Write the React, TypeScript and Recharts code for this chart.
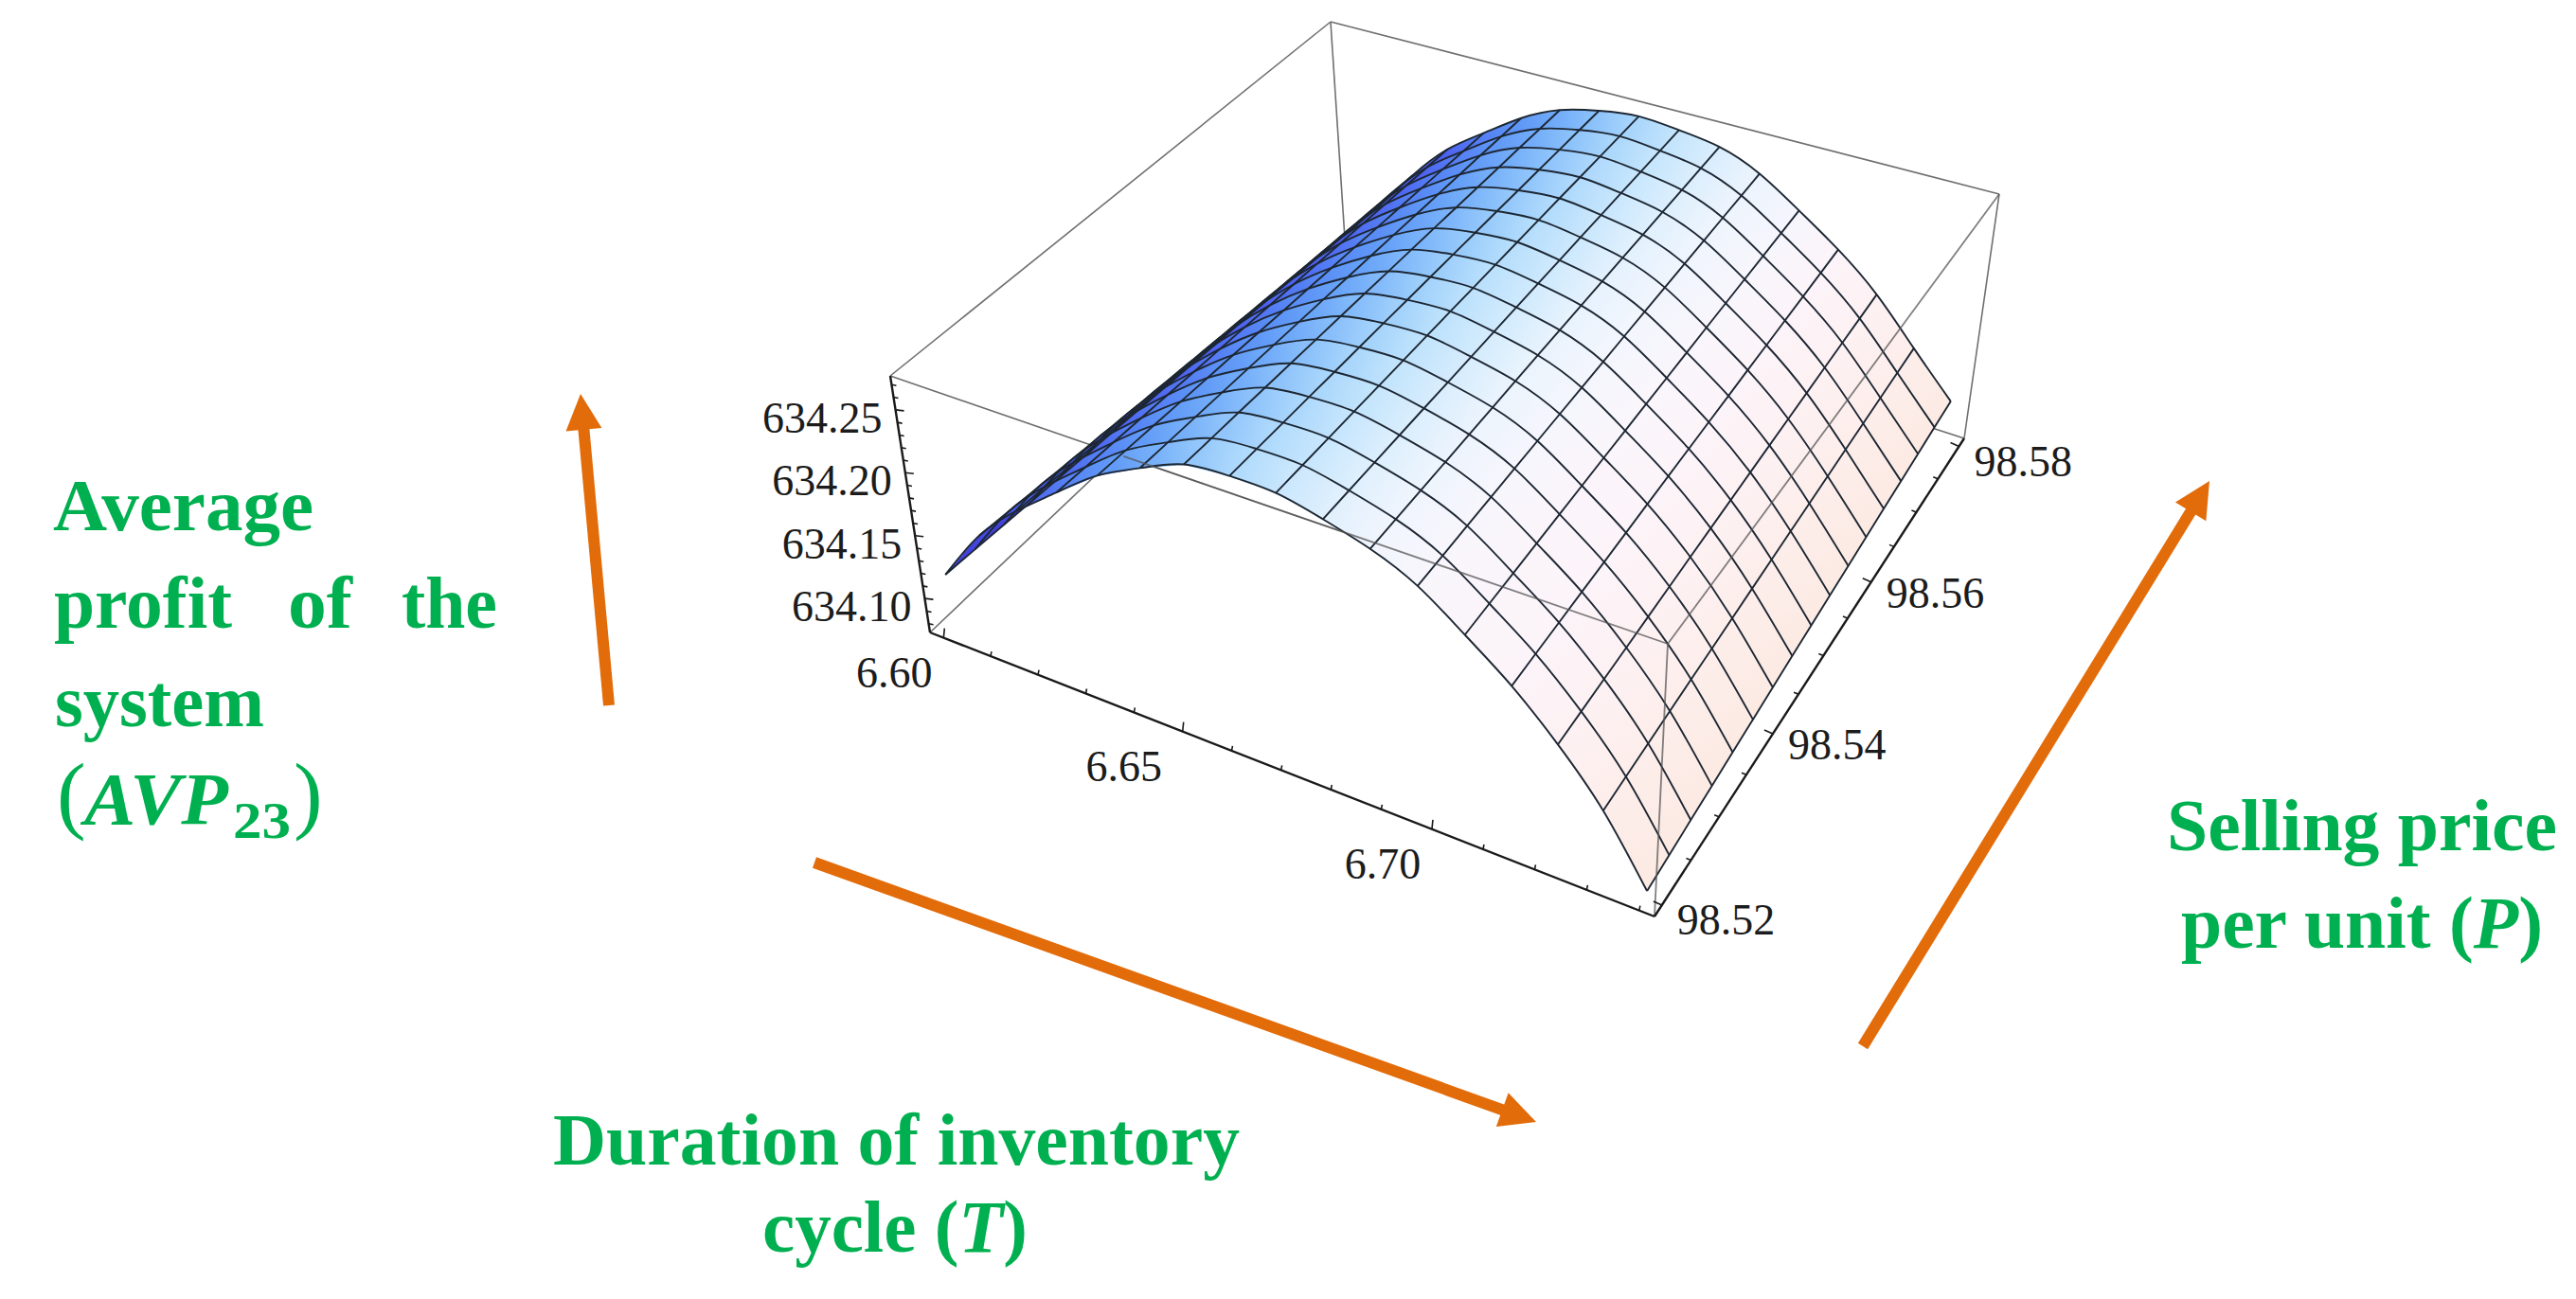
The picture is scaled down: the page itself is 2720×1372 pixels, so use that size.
import React from "react";
import { ComposedChart, Line, Scatter, XAxis, YAxis } from "recharts";

// Duration of inventory cycle (T) and selling price (P) at the mesh lines
const timeValues = [6.6, 6.60875, 6.6175, 6.62625, 6.635, 6.64375, 6.6525, 6.66125, 6.67, 6.67875, 6.6875, 6.69625, 6.705, 6.71375, 6.7225, 6.73125, 6.74];
const priceValues = [98.52, 98.52375, 98.5275, 98.53125, 98.535, 98.53875, 98.5425, 98.54625, 98.55, 98.55375, 98.5575, 98.56125, 98.565, 98.56875, 98.5725, 98.57625, 98.58];

// Average profit, one row per price, one column per time
const profitValues = [
  [634.1158, 634.1595, 634.1915, 634.2182, 634.2437, 634.2619, 634.277, 634.2803, 634.2794, 634.2715, 634.2611, 634.2452, 634.2205, 634.1944, 634.163, 634.1262, 634.0791],
  [634.1142, 634.1572, 634.1896, 634.2167, 634.2422, 634.2606, 634.2758, 634.2795, 634.2789, 634.2713, 634.2612, 634.2454, 634.2209, 634.195, 634.1638, 634.1271, 634.0808],
  [634.1126, 634.155, 634.1877, 634.2153, 634.2407, 634.2594, 634.2747, 634.2786, 634.2784, 634.2711, 634.2613, 634.2457, 634.2213, 634.1955, 634.1646, 634.128, 634.0826],
  [634.1109, 634.1527, 634.1858, 634.2138, 634.239, 634.2581, 634.2735, 634.2778, 634.2778, 634.2709, 634.2614, 634.2459, 634.2217, 634.1961, 634.1653, 634.1289, 634.0843],
  [634.1093, 634.1505, 634.1839, 634.2123, 634.2375, 634.2569, 634.2723, 634.2769, 634.2773, 634.2707, 634.2615, 634.2462, 634.2221, 634.1966, 634.1661, 634.1298, 634.0861],
  [634.1077, 634.1482, 634.1821, 634.2108, 634.236, 634.2556, 634.2711, 634.2761, 634.2768, 634.2704, 634.2617, 634.2464, 634.2225, 634.1972, 634.1669, 634.1306, 634.0878],
  [634.1061, 634.1459, 634.1802, 634.2094, 634.2345, 634.2543, 634.27, 634.2753, 634.2763, 634.2702, 634.2618, 634.2466, 634.223, 634.1978, 634.1677, 634.1315, 634.0895],
  [634.1045, 634.1437, 634.1783, 634.2079, 634.2328, 634.2531, 634.2688, 634.2744, 634.2758, 634.27, 634.2619, 634.2469, 634.2234, 634.1983, 634.1684, 634.1324, 634.0913],
  [634.1028, 634.1414, 634.1764, 634.2064, 634.2313, 634.2518, 634.2676, 634.2736, 634.2752, 634.2698, 634.262, 634.2471, 634.2238, 634.1989, 634.1692, 634.1333, 634.093],
  [634.1012, 634.1392, 634.1745, 634.2049, 634.2298, 634.2506, 634.2664, 634.2727, 634.2747, 634.2696, 634.2621, 634.2474, 634.2242, 634.1994, 634.17, 634.1342, 634.0948],
  [634.0996, 634.1369, 634.1726, 634.2035, 634.2283, 634.2493, 634.2653, 634.2719, 634.2742, 634.2694, 634.2622, 634.2476, 634.2246, 634.2, 634.1708, 634.1351, 634.0965],
  [634.098, 634.1346, 634.1707, 634.202, 634.2266, 634.248, 634.2641, 634.2711, 634.2737, 634.2692, 634.2623, 634.2478, 634.225, 634.2006, 634.1715, 634.136, 634.0982],
  [634.0964, 634.1324, 634.1688, 634.2005, 634.2251, 634.2468, 634.2629, 634.2702, 634.2732, 634.269, 634.2624, 634.2481, 634.2254, 634.2011, 634.1723, 634.1369, 634.1],
  [634.0947, 634.1301, 634.1669, 634.199, 634.2236, 634.2455, 634.2617, 634.2694, 634.2726, 634.2688, 634.2625, 634.2483, 634.2258, 634.2017, 634.1731, 634.1378, 634.1017],
  [634.0931, 634.1279, 634.165, 634.1976, 634.2221, 634.2443, 634.2606, 634.2685, 634.2721, 634.2686, 634.2626, 634.2486, 634.2262, 634.2022, 634.1739, 634.1387, 634.1035],
  [634.0915, 634.1256, 634.1632, 634.1961, 634.2204, 634.243, 634.2594, 634.2677, 634.2716, 634.2684, 634.2628, 634.2488, 634.2266, 634.2028, 634.1746, 634.1396, 634.1052],
  [634.0899, 634.1234, 634.1613, 634.1946, 634.2189, 634.2417, 634.2582, 634.2668, 634.2711, 634.2682, 634.2629, 634.2491, 634.227, 634.2034, 634.1754, 634.1405, 634.1069],
];

// Axis ticks
const profitTicks = [634.08, 634.09, 634.1, 634.11, 634.12, 634.13, 634.14, 634.15, 634.16, 634.17, 634.18, 634.19, 634.2, 634.21, 634.22, 634.23, 634.24, 634.25, 634.26, 634.27];
const profitLabels = [634.1, 634.15, 634.2, 634.25];
const timeTicks = [6.6, 6.61, 6.62, 6.63, 6.64, 6.65, 6.66, 6.67, 6.68, 6.69, 6.7, 6.71, 6.72, 6.73, 6.74];
const timeLabels = [6.6, 6.65, 6.7];
const priceTicks = [98.52, 98.525, 98.53, 98.535, 98.54, 98.545, 98.55, 98.555, 98.56, 98.565, 98.57, 98.575, 98.58];
const priceLabels = [98.52, 98.54, 98.56, 98.58];

// The view: where the box corners land on the page
const LB = { x: 982, y: 668 };
const FB = { x: 1747, y: 968 };
const RB = { x: 2074, y: 463 };
const BB = { x: 1420, y: 252 };
const LT = { x: 940, y: 397 };
const FT = { x: 1761, y: 680 };
const RT = { x: 2111, y: 205 };
const BT = { x: 1405, y: 23 };

const timeRange = [6.5971, 6.7429];
const priceRange = [98.51875, 98.58125];
const profitRange = [634.073, 634.277];

const warp = (u: number, w: number) => (w * u) / (1 + (w - 1) * u);

const bilinear = (a: any, b: any, c: any, d: any, t: number, p: number) => ({
  x: (1 - p) * ((1 - t) * a.x + t * b.x) + p * ((1 - t) * d.x + t * c.x),
  y: (1 - p) * ((1 - t) * a.y + t * b.y) + p * ((1 - t) * d.y + t * c.y),
});

// 3D box position to page position
function project(T: number, P: number, Z: number) {
  const p = warp((P - priceRange[0]) / (priceRange[1] - priceRange[0]), 1.2);
  const t = warp((T - timeRange[0]) / (timeRange[1] - timeRange[0]), 0.94 - 0.05 * p);
  const h = (Z - profitRange[0]) / (profitRange[1] - profitRange[0]);
  const base = bilinear(LB, FB, RB, BB, t, p);
  const top = bilinear(LT, FT, RT, BT, t, p);
  return { x: base.x + (top.x - base.x) * h, y: base.y + (top.y - base.y) * h };
}

// Surface shading from the steep low-T side to the far high-T side
const shadeStops = [
  [45, 45, 190], [70, 70, 228], [74, 80, 236], [80, 110, 242], [88, 140, 245],
  [100, 160, 248], [125, 182, 250], [155, 205, 251], [185, 224, 252], [208, 234, 253],
  [232, 243, 253], [244, 246, 253], [250, 246, 252], [252, 244, 249], [253, 241, 243],
  [253, 238, 235], [252, 234, 227],
];

const shade = (i: number, j: number) => {
  const u = Math.max(0, Math.min(16, i - (j - 8) * 0.09 * (i < 13 ? 1 : 0)));
  const lo = Math.floor(u);
  const hi = Math.min(16, lo + 1);
  const f = u - lo;
  const c = shadeStops[lo].map((v, k) => Math.round(v + (shadeStops[hi][k] - v) * f));
  return `rgb(${c[0]},${c[1]},${c[2]})`;
};

const surfaceCells: any[] = [];
for (let j = priceValues.length - 2; j >= 0; j--) {
  for (let i = 0; i < timeValues.length - 1; i++) {
    const corners = [
      project(timeValues[i], priceValues[j], profitValues[j][i]),
      project(timeValues[i + 1], priceValues[j], profitValues[j][i + 1]),
      project(timeValues[i + 1], priceValues[j + 1], profitValues[j + 1][i + 1]),
      project(timeValues[i], priceValues[j + 1], profitValues[j + 1][i]),
    ];
    surfaceCells.push({
      id: `cell-${j}-${i}`,
      x: corners.reduce((s, c) => s + c.x, 0) / 4,
      y: corners.reduce((s, c) => s + c.y, 0) / 4,
      corners,
      from: shade(i, j),
      to: shade(i + 1, j),
    });
  }
}

const CellShape = (props: any) => {
  const { cx, cy, payload } = props;
  const pts = payload.corners.map((c: any) => ({ x: c.x - payload.x + cx, y: c.y - payload.y + cy }));
  const startX = (pts[0].x + pts[3].x) / 2;
  const startY = (pts[0].y + pts[3].y) / 2;
  const endX = (pts[1].x + pts[2].x) / 2;
  const endY = (pts[1].y + pts[2].y) / 2;
  return (
    <g>
      <defs>
        <linearGradient id={payload.id} gradientUnits="userSpaceOnUse" x1={startX} y1={startY} x2={endX} y2={endY}>
          <stop offset="0" stopColor={payload.from} />
          <stop offset="1" stopColor={payload.to} />
        </linearGradient>
      </defs>
      <polygon
        points={pts.map((q: any) => `${q.x},${q.y}`).join(" ")}
        fill={`url(#${payload.id})`}
        stroke={`url(#${payload.id})`}
        strokeWidth={0.8}
      />
    </g>
  );
};

const priceMesh = priceValues.map((P, j) => timeValues.map((T, i) => project(T, P, profitValues[j][i])));
const timeMesh = timeValues.map((T, i) => priceValues.map((P, j) => project(T, P, profitValues[j][i])));

const tickPath = (points: any[], isMajor: (k: number) => boolean, major: number[], minor: number[]) => {
  const out: any[] = [];
  points.forEach((pt, k) => {
    const d = isMajor(k) ? major : minor;
    out.push({ x: pt.x, y: pt.y }, { x: pt.x + d[0], y: pt.y + d[1] }, { x: pt.x + d[0], y: null });
  });
  return out;
};

const zBottom = profitRange[0];
const profitTickLine = tickPath(
  profitTicks.map((z) => project(timeRange[0], priceRange[0], z)),
  (k) => profitLabels.includes(profitTicks[k]),
  [9, 1],
  [5, 1]
);
const timeTickLine = tickPath(
  timeTicks.map((T) => project(T, priceRange[0], zBottom)),
  (k) => timeLabels.includes(timeTicks[k]),
  [1, -10],
  [1, -5]
);
const priceTickLine = tickPath(
  priceTicks.map((P) => project(timeRange[1], P, zBottom)),
  (k) => priceLabels.includes(priceTicks[k]),
  [-9, -4],
  [-5, -2]
);

const along = (a: any, b: any, f: number) => ({ x: a.x + (b.x - a.x) * f, y: a.y + (b.y - a.y) * f });

const backEdges = [[LB, BB], [BB, RB], [BB, BT], [LT, BT], [BT, RT], [RT, RB], [LT, FT]];
const frontEdges = [[along(LT, FT, 0.3), FT], [FT, RT], [FT, FB]];
const axisEdges = [[LT, LB], [LB, FB], [FB, RB]];

// Orange arrows beside the plot
const arrows = [
  { from: { x: 643, y: 745 }, tip: { x: 613, y: 416 } },
  { from: { x: 860, y: 911 }, tip: { x: 1622, y: 1185 } },
  { from: { x: 1967, y: 1105 }, tip: { x: 2333, y: 508 } },
];
const ORANGE = "#E36C0A";
const GREEN = "#00B050";
const SERIF = "'Liberation Serif', serif";

const arrowShaft = (a: any) => {
  const dx = a.tip.x - a.from.x;
  const dy = a.tip.y - a.from.y;
  const len = Math.hypot(dx, dy);
  return [a.from, { x: a.tip.x - (dx / len) * 30, y: a.tip.y - (dy / len) * 30 }];
};

const ArrowHead = (props: any) => {
  const { cx, cy, payload } = props;
  return (
    <polygon
      points="0,0 -38,-19 -38,19"
      fill={ORANGE}
      transform={`translate(${cx},${cy}) rotate(${payload.angle})`}
    />
  );
};

const arrowHeads = arrows.map((a) => ({
  x: a.tip.x,
  y: a.tip.y,
  angle: (Math.atan2(a.tip.y - a.from.y, a.tip.x - a.from.x) * 180) / Math.PI,
}));

const seriesLine = (key: string, data: any[], stroke: string, width: number, zIndex: number, type: any = "linear", opacity = 1) => (
  <Line
    key={key}
    data={data}
    dataKey="y"
    type={type}
    stroke={stroke}
    strokeWidth={width}
    strokeOpacity={opacity}
    dot={false}
    activeDot={false}
    legendType="none"
    isAnimationActive={false}
    zIndex={zIndex}
  />
);

const tickLabelStyle = { fontFamily: SERIF, fontSize: 46, fill: "#1c1c1c" };
const titleStyle = { fontFamily: SERIF, fontSize: 78, fontWeight: 700, fill: GREEN };

// Small shifts of the labels that sit off the common offset
const timeLabelShift: Record<string, number> = { "6.65": -10 };
const priceLabelShift: Record<string, number> = { "98.52": 6, "98.54": 2, "98.56": 2, "98.58": 7 };

export default function App() {
  return (
    <div style={{ position: "fixed", left: 0, top: 0, width: 2720, height: 1372, background: "#fff" }}>
      <ComposedChart width={2720} height={1372} margin={{ top: 0, right: 0, bottom: 0, left: 0 }}>
        <XAxis type="number" dataKey="x" domain={[0, 2720]} hide />
        <YAxis type="number" dataKey="y" domain={[0, 1372]} reversed hide />

        {backEdges.map((e, k) => seriesLine(`back-${k}`, e, "#6f6f6f", 1.6, 100))}

        <Scatter data={surfaceCells} dataKey="y" shape={CellShape} isAnimationActive={false} legendType="none" zIndex={200} />

        {priceMesh.map((pts, k) => seriesLine(`price-${k}`, pts, "#1d2733", 1.9, 300, "natural"))}
        {timeMesh.map((pts, k) => seriesLine(`time-${k}`, pts, "#1d2733", 1.9, 300, "natural"))}

        {frontEdges.map((e, k) => seriesLine(`front-${k}`, e, "#555555", 1.8, 400, "linear", 0.75))}
        {axisEdges.map((e, k) => seriesLine(`axis-${k}`, e, "#1a1a1a", 2.4, 400))}
        {seriesLine("profit-ticks", profitTickLine, "#1a1a1a", 1.6, 400)}
        {seriesLine("time-ticks", timeTickLine, "#1a1a1a", 1.6, 400)}
        {seriesLine("price-ticks", priceTickLine, "#1a1a1a", 1.6, 400)}

        {arrows.map((a, k) => seriesLine(`arrow-${k}`, arrowShaft(a), ORANGE, 12, 500))}
        <Scatter data={arrowHeads} dataKey="y" shape={ArrowHead} isAnimationActive={false} legendType="none" zIndex={500} />

        {profitLabels.map((z) => {
          const pt = project(timeRange[0], priceRange[0], z);
          return (
            <text key={z} x={pt.x - 14} y={pt.y + 24} textAnchor="end" {...tickLabelStyle}>
              {z.toFixed(2)}
            </text>
          );
        })}
        {timeLabels.map((T) => {
          const pt = project(T, priceRange[0], zBottom);
          return (
            <text key={T} x={pt.x - 52 + (timeLabelShift[T.toFixed(2)] || 0)} y={pt.y + 52} textAnchor="middle" {...tickLabelStyle}>
              {T.toFixed(2)}
            </text>
          );
        })}
        {priceLabels.map((P) => {
          const pt = project(timeRange[1], P, zBottom);
          return (
            <text key={P} x={pt.x + 16} y={pt.y + 25 + priceLabelShift[P.toFixed(2)]} {...tickLabelStyle}>
              {P.toFixed(2)}
            </text>
          );
        })}

        <text x={56} y={560} textLength={275} lengthAdjust="spacingAndGlyphs" {...titleStyle}>Average</text>
        <text x={57} y={663} textLength={188} lengthAdjust="spacingAndGlyphs" {...titleStyle}>profit</text>
        <text x={304} y={663} textLength={68} lengthAdjust="spacingAndGlyphs" {...titleStyle}>of</text>
        <text x={424} y={663} textLength={101} lengthAdjust="spacingAndGlyphs" {...titleStyle}>the</text>
        <text x={58} y={767} textLength={221} lengthAdjust="spacingAndGlyphs" {...titleStyle}>system</text>
        <text x={60} y={869} {...titleStyle} fontSize={92} fontWeight={400}>(</text>
        <text x={89} y={870} textLength={152} lengthAdjust="spacingAndGlyphs" {...titleStyle} fontStyle="italic">AVP</text>
        <text x={246} y={885} textLength={61} lengthAdjust="spacingAndGlyphs" {...titleStyle} fontSize={54}>23</text>
        <text x={310} y={869} {...titleStyle} fontSize={92} fontWeight={400}>)</text>

        <text x={2288} y={898} textLength={412} lengthAdjust="spacingAndGlyphs" {...titleStyle}>Selling price</text>
        <text x={2303} y={1001} textLength={382} lengthAdjust="spacingAndGlyphs" {...titleStyle}>
          per unit (<tspan fontStyle="italic">P</tspan>)
        </text>
        <text x={584} y={1230} textLength={725} lengthAdjust="spacingAndGlyphs" {...titleStyle}>Duration of inventory</text>
        <text x={805} y={1322} textLength={280} lengthAdjust="spacingAndGlyphs" {...titleStyle}>
          cycle (<tspan fontStyle="italic">T</tspan>)
        </text>
      </ComposedChart>
    </div>
  );
}
